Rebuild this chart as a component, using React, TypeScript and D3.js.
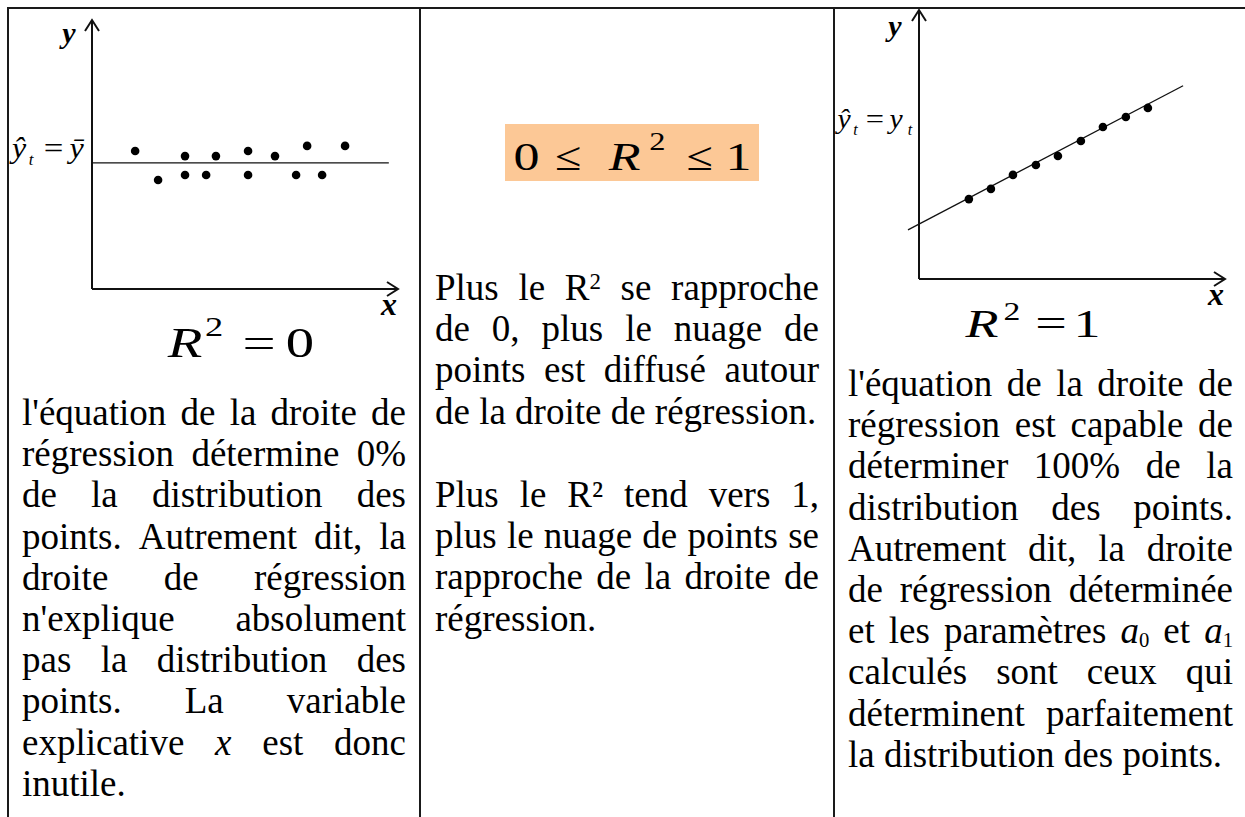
import React, { useMemo } from "react";
import * as d3 from "d3";

const W = 1245;
const H = 817;
const SERIF = "'Liberation Serif', 'Times New Roman', serif";

// R² = 0 : scattered points around the mean line
const flatX = [1.41, 2.16, 3.04, 3.04, 3.73, 4.05, 5.1, 5.1, 5.98, 6.67, 7.03, 7.52, 8.27];
const flatY = [5.13, 4.05, 4.94, 4.24, 4.24, 4.94, 5.13, 4.24, 4.94, 4.24, 5.32, 4.24, 5.32];
const flatLineX = [0, 9.7];

// R² = 1 : points lying on the fitted line y = a0 + a1·x
const fitX = [1.63, 2.35, 3.07, 3.82, 4.54, 5.29, 6.01, 6.76, 7.48];
const fitY = [2.97, 3.35, 3.87, 4.24, 4.57, 5.13, 5.65, 6.02, 6.36];
const A0 = 2.04;
const A1 = 0.596;
const fitLineX = [-0.36, 8.63];

const axisDomain = [0, 10];

// Paragraph lines (markup: *italic*, _subscript, ^superscript)
const leftText = [
  "l'équation de la droite de",
  "régression détermine 0%",
  "de la distribution des",
  "points. Autrement dit, la",
  "droite de régression",
  "n'explique absolument",
  "pas la distribution des",
  "points. La variable",
  "explicative *x* est donc",
  "inutile.",
];
const centerText1 = [
  "Plus le R^2 se rapproche",
  "de 0, plus le nuage de",
  "points est diffusé autour",
  "de la droite de régression.",
];
const centerText2 = [
  "Plus le R² tend vers 1,",
  "plus le nuage de points se",
  "rapproche de la droite de",
  "régression.",
];
const rightText = [
  "l'équation de la droite de",
  "régression est capable de",
  "déterminer 100% de la",
  "distribution des points.",
  "Autrement dit, la droite",
  "de régression déterminée",
  "et les paramètres *a*_0 et *a*_1",
  "calculés sont ceux qui",
  "déterminent parfaitement",
  "la distribution des points.",
];

type Seg = { t: string; kind: "n" | "i" | "sub" | "sup" };

function parseWord(w: string): Seg[] {
  const out: Seg[] = [];
  const re = /\*([^*]+)\*|_(\S)|\^(\S)|([^*_^]+)/g;
  let m: RegExpExecArray | null;
  while ((m = re.exec(w))) {
    if (m[1]) out.push({ t: m[1], kind: "i" });
    else if (m[2]) out.push({ t: m[2], kind: "sub" });
    else if (m[3]) out.push({ t: m[3], kind: "sup" });
    else out.push({ t: m[4], kind: "n" });
  }
  return out;
}

const BODY = 37;
const LH = 41.2;
const SUP = 0.62;
const SUB = 0.56;

function Paragraph({
  lines,
  x0,
  x1,
  y0,
  measure,
}: {
  lines: string[];
  x0: number;
  x1: number;
  y0: number;
  measure: (s: string, size: number, italic: boolean) => number;
}) {
  const spaceW = measure(" ", BODY, false);
  const items: React.ReactNode[] = [];
  lines.forEach((line, li) => {
    const words = line.split(" ").map((w) => {
      const segs = parseWord(w).map((s) => {
        const size = s.kind === "sub" ? BODY * SUB : s.kind === "sup" ? BODY * SUP : BODY;
        return { ...s, size, w: measure(s.t, size, s.kind === "i") };
      });
      return { segs, w: d3.sum(segs, (s) => s.w) };
    });
    const total = d3.sum(words, (w) => w.w);
    const last = li === lines.length - 1;
    const gap = !last && words.length > 1 ? (x1 - x0 - total) / (words.length - 1) : spaceW;
    const y = y0 + li * LH;
    let x = x0;
    words.forEach((wd, wi) => {
      let cur = 0;
      items.push(
        <text key={`${li}-${wi}`} x={x} y={y} fontSize={BODY}>
          {wd.segs.map((s, si) => {
            const target = s.kind === "sub" ? 4 : s.kind === "sup" ? -11 : 0;
            const dy = target - cur;
            cur = target;
            return (
              <tspan
                key={si}
                dy={dy}
                fontSize={s.size}
                fontStyle={s.kind === "i" ? "italic" : "normal"}
              >
                {s.t}
              </tspan>
            );
          })}
        </text>
      );
      x += wd.w + gap;
    });
  });
  return <g fontFamily={SERIF} fill="#000">{items}</g>;
}

type Glyph = {
  t: string;
  cx: number;
  y: number;
  size: number;
  italic?: boolean;
  bold?: boolean;
  sx?: number;
};

function Glyphs({ list }: { list: Glyph[] }) {
  return (
    <g fontFamily={SERIF} fill="#000">
      {list.map((g, i) => (
        <text
          key={i}
          transform={`translate(${g.cx},${g.y}) scale(${g.sx ?? 1},1)`}
          textAnchor="middle"
          fontSize={g.size}
          fontStyle={g.italic ? "italic" : "normal"}
          fontWeight={g.bold ? "bold" : "normal"}
        >
          {g.t}
        </text>
      ))}
    </g>
  );
}

function Axes({
  x,
  y,
}: {
  x: d3.ScaleLinear<number, number>;
  y: d3.ScaleLinear<number, number>;
}) {
  const ox = x(axisDomain[0]);
  const oy = y(axisDomain[0]);
  const tx = x(axisDomain[1]);
  const ty = y(axisDomain[1]);
  const a = 11;
  const b = 7;
  return (
    <g stroke="#111" strokeWidth={2} fill="none">
      <path d={`M${ox},${oy}V${ty}M${ox - b},${ty + a}L${ox},${ty}L${ox + b},${ty + a}`} />
      <path d={`M${ox},${oy}H${tx}M${tx - a},${oy - b}L${tx},${oy}L${tx - a},${oy + b}`} />
    </g>
  );
}

export default function App() {
  const measure = useMemo(() => {
    const ctx = document.createElement("canvas").getContext("2d")!;
    return (s: string, size: number, italic: boolean) => {
      ctx.font = `${italic ? "italic " : ""}${size}px 'Liberation Serif'`;
      return ctx.measureText(s).width;
    };
  }, []);

  const lx = d3.scaleLinear().domain(axisDomain).range([92, 398]);
  const ly = d3.scaleLinear().domain(axisDomain).range([289, 20]);
  const rx = d3.scaleLinear().domain(axisDomain).range([919, 1225]);
  const ry = d3.scaleLinear().domain(axisDomain).range([279, 10]);

  const yMean = d3.mean(flatY) as number;
  const meanLine = d3
    .line<number>()
    .x((d) => lx(d))
    .y(() => ly(yMean))(flatLineX);
  const fitLine = d3
    .line<number>()
    .x((d) => rx(d))
    .y((d) => ry(A0 + A1 * d))(fitLineX);

  const leftLabels: Glyph[] = [
    { t: "y", cx: 69, y: 43, size: 30, italic: true, bold: true },
    { t: "x", cx: 389, y: 315, size: 32, italic: true, bold: true },
    { t: "ŷ", cx: 19, y: 158, size: 29, italic: true, sx: 1.1 },
    { t: "t", cx: 31, y: 165, size: 17, italic: true },
    { t: "=", cx: 53.5, y: 158, size: 29, sx: 1.2 },
    { t: "ȳ", cx: 76.5, y: 158, size: 29, italic: true, sx: 1.1 },
    { t: "R", cx: 185, y: 357, size: 42, italic: true, sx: 1.35 },
    { t: "2", cx: 214, y: 336, size: 27, sx: 1.35 },
    { t: "=", cx: 259, y: 357, size: 42, sx: 1.4 },
    { t: "0", cx: 300, y: 357, size: 42, sx: 1.35 },
  ];
  const centerLabels: Glyph[] = [
    { t: "0", cx: 526.5, y: 170, size: 40, sx: 1.3 },
    { t: "≤", cx: 568.5, y: 170, size: 40, sx: 1.2 },
    { t: "R", cx: 624.5, y: 170, size: 40, italic: true, sx: 1.3 },
    { t: "2", cx: 657.5, y: 150, size: 25, sx: 1.3 },
    { t: "≤", cx: 700, y: 170, size: 40, sx: 1.2 },
    { t: "1", cx: 738.5, y: 170, size: 40, sx: 1.3 },
  ];
  const rightLabels: Glyph[] = [
    { t: "y", cx: 895, y: 36, size: 30, italic: true, bold: true },
    { t: "x", cx: 1216, y: 305, size: 32, italic: true, bold: true },
    { t: "ŷ", cx: 844, y: 128, size: 27, italic: true, sx: 1.1 },
    { t: "t", cx: 855.5, y: 135, size: 16, italic: true },
    { t: "=", cx: 875, y: 128, size: 27, sx: 1.2 },
    { t: "y", cx: 896, y: 128, size: 27, italic: true, sx: 1.1 },
    { t: "t", cx: 910, y: 135, size: 16, italic: true },
    { t: "R", cx: 982, y: 337, size: 40, italic: true, sx: 1.35 },
    { t: "2", cx: 1012, y: 320, size: 25, sx: 1.35 },
    { t: "=", cx: 1051, y: 337, size: 40, sx: 1.4 },
    { t: "1", cx: 1087, y: 337, size: 40, sx: 1.35 },
  ];

  return (
    <svg
      width={W}
      height={H}
      viewBox={`0 0 ${W} ${H}`}
      style={{ position: "absolute", left: 0, top: 0, background: "#fff" }}
    >
      <rect width={W} height={H} fill="#fff" />

      {/* table rules */}
      <g stroke="#1a1a1a" strokeWidth={2}>
        <line x1={7} x2={W} y1={8} y2={8} />
        <line x1={8} x2={8} y1={7} y2={H} />
        <line x1={420} x2={420} y1={7} y2={H} />
        <line x1={834} x2={834} y1={7} y2={H} />
      </g>

      {/* left panel: R² = 0 */}
      <Axes x={lx} y={ly} />
      <path d={meanLine ?? ""} stroke="#111" strokeWidth={1.3} fill="none" />
      <g fill="#000">
        {flatX.map((v, i) => (
          <circle key={i} cx={lx(v)} cy={ly(flatY[i])} r={4.3} />
        ))}
      </g>
      <Glyphs list={leftLabels} />
      <Paragraph lines={leftText} x0={22} x1={406} y0={425} measure={measure} />

      {/* center panel */}
      <rect x={505} y={124} width={254} height={57} fill="#FCC896" />
      <Glyphs list={centerLabels} />
      <Paragraph lines={centerText1} x0={435} x1={819} y0={300} measure={measure} />
      <Paragraph lines={centerText2} x0={435} x1={819} y0={507} measure={measure} />

      {/* right panel: R² = 1 */}
      <Axes x={rx} y={ry} />
      <path d={fitLine ?? ""} stroke="#111" strokeWidth={1.3} fill="none" />
      <g fill="#000">
        {fitX.map((v, i) => (
          <circle key={i} cx={rx(v)} cy={ry(fitY[i])} r={4.3} />
        ))}
      </g>
      <Glyphs list={rightLabels} />
      <Paragraph lines={rightText} x0={848} x1={1233} y0={396} measure={measure} />
    </svg>
  );
}
